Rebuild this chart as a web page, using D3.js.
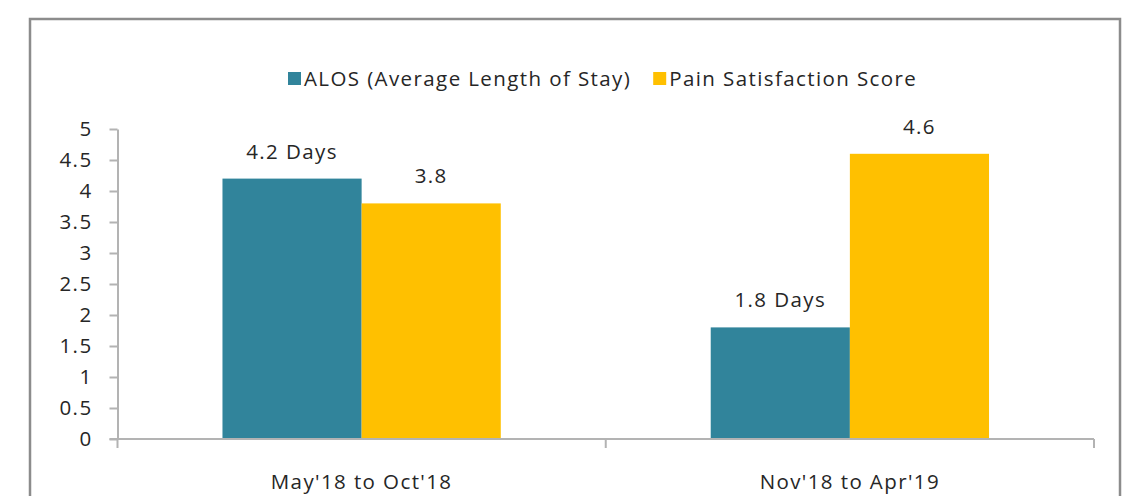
<!DOCTYPE html>
<html>
<head>
<meta charset="utf-8">
<script src="https://cdn.jsdelivr.net/npm/d3@7"></script>
<style>
  html, body { margin: 0; padding: 0; background: #fff; }
  svg { display: block; }
  text { font-family: 'Open Sans', 'Lato', sans-serif; fill: #262626; letter-spacing: 1.4px; }
</style>
</head>
<body>
<svg id="chart" width="1131" height="496"></svg>
<script>
const categories = ["May'18 to Oct'18", "Nov'18 to Apr'19"];
const seriesNames = ['ALOS (Average Length of Stay)', 'Pain Satisfaction Score'];
const alosValues = [4.2, 1.8];
const painValues = [3.8, 4.6];
const alosLabels = ['4.2 Days', '1.8 Days'];
const painLabels = ['3.8', '4.6'];
const yTicks = [0, 0.5, 1, 1.5, 2, 2.5, 3, 3.5, 4, 4.5, 5];

const colors = { alos: '#31849b', pain: '#ffc000' };
const fontSize = '20.5px';

const svg = d3.select('#chart');

// outer frame (bottom edge sits below the visible area)
svg.append('rect')
  .attr('x', 30).attr('y', 19)
  .attr('width', 1090).attr('height', 520)
  .attr('fill', '#fff')
  .attr('stroke', '#8c8c8c')
  .attr('stroke-width', 2.5);

const plot = { left: 117.5, right: 1094, top: 129, bottom: 439 };

const y = d3.scaleLinear().domain([0, 5]).range([plot.bottom, plot.top]);

const x0 = d3.scaleBand()
  .domain(categories)
  .range([plot.left, plot.right])
  .paddingInner(0.43)
  .paddingOuter(0.215);

const x1 = d3.scaleBand()
  .domain(['alos', 'pain'])
  .range([0, x0.bandwidth()]);

const rows = categories.map((c, i) => ({
  cat: c,
  bars: [
    { key: 'alos', value: alosValues[i], label: alosLabels[i] },
    { key: 'pain', value: painValues[i], label: painLabels[i] }
  ]
}));

// bars
const groups = svg.append('g').selectAll('g')
  .data(rows)
  .join('g')
  .attr('transform', d => `translate(${x0(d.cat)},0)`);

groups.selectAll('rect')
  .data(d => d.bars)
  .join('rect')
  .attr('x', d => x1(d.key))
  .attr('y', d => y(d.value))
  .attr('width', x1.bandwidth())
  .attr('height', d => y(0) - y(d.value))
  .attr('fill', d => colors[d.key]);

groups.selectAll('text')
  .data(d => d.bars)
  .join('text')
  .attr('x', d => x1(d.key) + x1.bandwidth() / 2)
  .attr('y', d => y(d.value) - 20)
  .attr('text-anchor', 'middle')
  .style('font-size', fontSize)
  .text(d => d.label);

// y axis
const yAxis = svg.append('g')
  .attr('transform', `translate(${plot.left},0)`)
  .call(d3.axisLeft(y).tickValues(yTicks).tickSize(8).tickSizeOuter(0).tickPadding(17)
    .tickFormat(d3.format('')));
yAxis.selectAll('path, line').attr('stroke', '#b3b3b3').attr('stroke-width', 2);
yAxis.selectAll('text').style('font-size', fontSize).attr('fill', '#262626')
  .style('font-family', "'Open Sans', sans-serif");

// x axis: ticks at category boundaries
const boundaries = [plot.left, ...categories.map(c => x0(c) + x0.bandwidth() + x0.step() * x0.paddingOuter())];
const xAxis = svg.append('g');
xAxis.append('line')
  .attr('x1', plot.left - 8).attr('x2', plot.right)
  .attr('y1', y(0)).attr('y2', y(0))
  .attr('stroke', '#b3b3b3').attr('stroke-width', 2);
xAxis.selectAll('.bt')
  .data(boundaries)
  .join('line')
  .attr('class', 'bt')
  .attr('x1', d => d).attr('x2', d => d)
  .attr('y1', y(0)).attr('y2', y(0) + 9)
  .attr('stroke', '#b3b3b3').attr('stroke-width', 2);
xAxis.selectAll('text')
  .data(categories)
  .join('text')
  .attr('x', d => x0(d) + x0.bandwidth() / 2)
  .attr('y', 489)
  .attr('text-anchor', 'middle')
  .style('font-size', fontSize)
  .text(d => d);

// legend
const legend = svg.append('g').attr('transform', 'translate(288,79)');
let lx = 0;
seriesNames.forEach((name, i) => {
  const item = legend.append('g').attr('transform', `translate(${lx},0)`);
  item.append('rect')
    .attr('x', 0).attr('y', -7)
    .attr('width', 13).attr('height', 13)
    .attr('fill', i === 0 ? colors.alos : colors.pain);
  const t = item.append('text')
    .attr('x', 16).attr('y', 7)
    .style('font-size', fontSize)
    .text(name);
  lx += 16 + t.node().getComputedTextLength() + 22;
});
</script>
</body>
</html>
